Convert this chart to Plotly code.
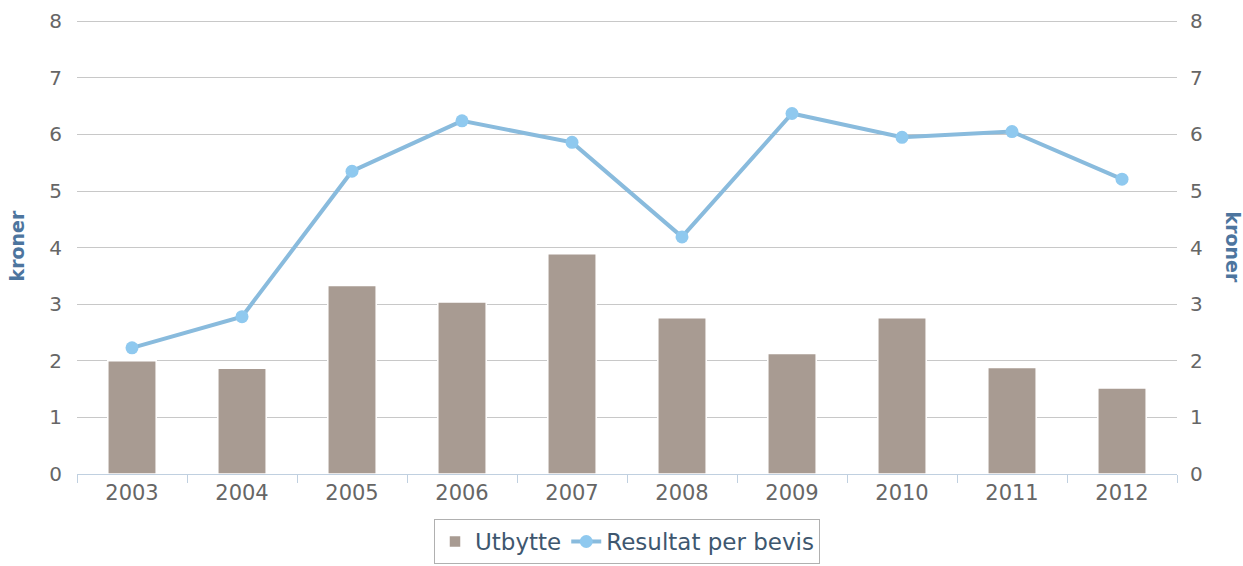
import plotly.graph_objects as go

years = ["2003", "2004", "2005", "2006", "2007", "2008", "2009", "2010", "2011", "2012"]
utbytte = [2.0, 1.87, 3.33, 3.04, 3.89, 2.76, 2.13, 2.76, 1.88, 1.52]
resultat = [2.23, 2.78, 5.35, 6.24, 5.86, 4.19, 6.37, 5.95, 6.05, 5.21]
y_ticks = [0, 1, 2, 3, 4, 5, 6, 7, 8]

FONT = "DejaVu Sans"
TICK_COLOR = "#666666"
TITLE_COLOR = "#4d759e"

fig = go.Figure()
fig.add_trace(go.Bar(
    x=years, y=utbytte, name="Utbytte",
    marker=dict(color="#a89b92", line=dict(color="#ffffff", width=1.5)),
))
fig.add_trace(go.Scatter(
    x=years, y=resultat, name="Resultat per bevis", mode="lines+markers",
    line=dict(color="#89bbdd", width=4),
    marker=dict(color="#8fc9ef", size=13),
    yaxis="y2",
))

fig.update_layout(
    width=1243, height=566,
    margin=dict(l=77, r=66, t=19, b=92),
    paper_bgcolor="white", plot_bgcolor="white",
    font=dict(family=FONT, color=TICK_COLOR),
    bargap=0.56,
    showlegend=True,
    legend=dict(
        orientation="h", x=0.5, xanchor="center",
        yref="container", y=0.083, yanchor="top",
        bordercolor="#b0b0b0", borderwidth=1, bgcolor="white",
        font=dict(family=FONT, size=23, color="#3e576f"),
        itemwidth=30,
    ),
    xaxis=dict(
        type="category", range=[-0.5, len(years) - 0.5], showgrid=False, automargin=False,
        showline=True, linecolor="#c0d0e0", linewidth=1,
        ticks="outside", tickcolor="#c0d0e0", ticklen=8, tickson="boundaries",
        tickfont=dict(family=FONT, size=21, color=TICK_COLOR),
    ),
    yaxis=dict(
        range=[0, 8.04], tickvals=y_ticks, showgrid=True, gridcolor="#c8c8c8", gridwidth=1,
        zeroline=False, showline=False, automargin=False,
        tickfont=dict(family=FONT, size=20, color=TICK_COLOR),
        ticklabelstandoff=14,
    ),
    yaxis2=dict(
        range=[0, 8.04], tickvals=y_ticks, overlaying="y", side="right", showgrid=False,
        zeroline=False, showline=False, automargin=False,
        tickfont=dict(family=FONT, size=20, color=TICK_COLOR),
        ticklabelstandoff=12,
    ),
    annotations=[
        dict(
            text="<b>kroner</b>", xref="paper", yref="paper", x=0.0, y=0.5,
            xshift=-74, textangle=-90, showarrow=False,
            font=dict(family=FONT, size=19, color=TITLE_COLOR),
        ),
        dict(
            text="<b>kroner</b>", xref="paper", yref="paper", x=1.0, y=0.5,
            xshift=69, textangle=90, showarrow=False,
            font=dict(family=FONT, size=19, color=TITLE_COLOR),
        ),
    ],
)

fig.write_html("out.html", config={"displayModeBar": False},
               post_script="document.body.style.margin='0px';")
